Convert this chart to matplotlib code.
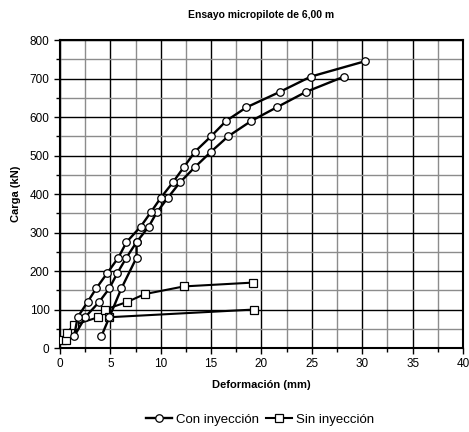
import numpy as np
import matplotlib
matplotlib.use("Agg")
import matplotlib.pyplot as plt
from matplotlib.ticker import MultipleLocator

plt.rcParams['font.family'] = ['Liberation Sans', 'DejaVu Sans']

# Con inyeccion - two runs, separated by NaN
con_def = [4.1, 4.9, 6.1, 7.6, 7.6, 8.8, 9.6, 10.7, 11.9, 13.4, 15.0, 16.7, 19.0, 21.5, 24.4, 28.2,
           np.nan,
           7.6, 6.6, 5.7, 4.9, 3.9, 2.5, 1.4, 1.75, 2.75, 3.6, 4.7, 5.8, 6.6, 8.0, 9.0, 10.0, 11.2,
           12.3, 13.4, 15.0, 16.5, 18.5, 21.8, 24.9, 30.3]
con_load = [30, 80, 155, 235, 275, 315, 352, 390, 430, 470, 510, 550, 590, 625, 665, 705,
            np.nan,
            275, 235, 195, 155, 120, 80, 30, 80, 120, 155, 195, 235, 275, 315, 352, 390, 430,
            470, 510, 550, 590, 625, 665, 705, 745]

# Sin inyeccion
sin_def = [0.2, 0.6, 0.7, 1.4, 3.8, 4.5, 6.7, 8.4, 12.3, 19.2, np.nan, 4.9, 19.3]
sin_load = [20, 20, 40, 60, 80, 100, 120, 140, 160, 170, np.nan, 80, 100]

fig = plt.figure(figsize=(4.69, 4.32), dpi=100)
ax = fig.add_axes([0.1279, 0.1944, 0.8593, 0.713])

ax.plot(con_def, con_load, color='black', lw=1.7, marker='o', ms=5.4,
        mfc='white', mec='black', mew=0.9, label='Con inyección', zorder=4)
ax.plot(sin_def, sin_load, color='black', lw=1.5, marker='s', ms=5.4,
        mfc='white', mec='black', mew=0.9, label='Sin inyección', zorder=3)

ax.set_xlim(0, 40)
ax.set_ylim(0, 800)
ax.xaxis.set_major_locator(MultipleLocator(5))
ax.xaxis.set_minor_locator(MultipleLocator(2.5))
ax.yaxis.set_major_locator(MultipleLocator(100))
ax.yaxis.set_minor_locator(MultipleLocator(50))
ax.grid(which='minor', color='#8c8c8c', lw=1)
ax.grid(which='major', color='black', lw=1)
ax.set_axisbelow(True)
for s in ax.spines.values():
    s.set_linewidth(1.5)
ax.tick_params(which='both', direction='out', labelsize=8.5, width=1)
ax.tick_params(which='major', length=4)
ax.tick_params(which='minor', length=3)

ax.set_title('Ensayo micropilote de 6,00 m', fontsize=7.5, fontweight='bold', pad=16)
ax.set_xlabel('Deformación (mm)', fontsize=8, fontweight='bold', labelpad=7)
ax.set_ylabel('Carga (kN)', fontsize=8, fontweight='bold', labelpad=6)

fig.legend(loc='center', bbox_to_anchor=(0.555, 0.028), ncol=2, frameon=False,
           fontsize=9.5, handlelength=2.0, handletextpad=0.3, columnspacing=0.5)

fig.savefig('out.png', dpi=100)
